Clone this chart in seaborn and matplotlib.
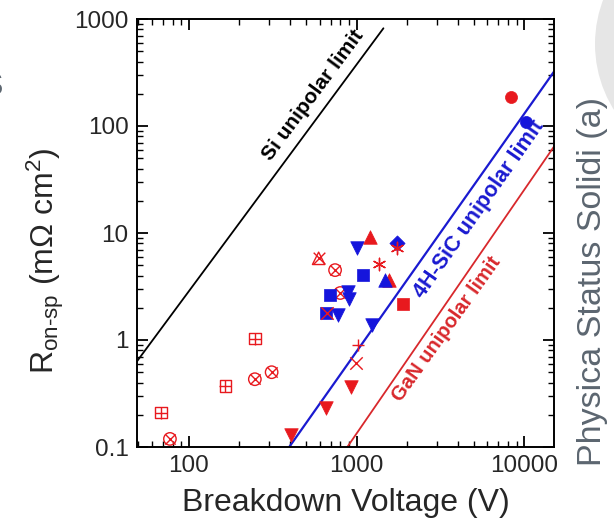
import matplotlib
matplotlib.use("Agg")
import matplotlib.pyplot as plt
import matplotlib.patches as mpatches
import matplotlib.transforms as mtransforms
from matplotlib.ticker import FixedLocator, LogLocator, NullFormatter
import seaborn as sns

# ---------------- data ----------------
# unipolar limit lines (end points)
si_x = [48.7, 1443]
si_y = [0.624, 819]
sic_x = [396, 14970]
sic_y = [0.1, 321]
gan_x = [879, 14970]
gan_y = [0.1, 64]

# GaN devices (red)
gan_sqplus_x = [68, 165, 247]
gan_sqplus_y = [0.21, 0.37, 1.03]
gan_circx_x = [77, 247, 311, 743, 798]
gan_circx_y = [0.119, 0.43, 0.50, 4.5, 2.75]
gan_trix_x = [593]
gan_trix_y = [5.8]
gan_cross_x = [995, 661]
gan_cross_y = [0.605, 1.77]
gan_plus_x = [1019]
gan_plus_y = [0.90]
gan_star_x = [1352, 1750]
gan_star_y = [5.1, 7.2]
gan_down_x = [405, 659, 929]
gan_down_y = [0.129, 0.230, 0.366]
gan_up_x = [1194, 1560]
gan_up_y = [9.1, 3.62]
gan_sq_x = [1888]
gan_sq_y = [2.16]
gan_circ_x = [8280]
gan_circ_y = [185]

# SiC devices (blue)
sic_sq_x = [690, 1089, 653]
sic_sq_y = [2.66, 4.04, 1.77]
sic_down_x = [1000, 770, 889, 895, 1226]
sic_down_y = [7.3, 1.71, 2.8, 2.4, 1.38]
sic_up_x = [1482]
sic_up_y = [3.67]
sic_dia_x = [1741]
sic_dia_y = [7.98]
sic_circ_x = [10280]
sic_circ_y = [110]

x_ticks = [100, 1000, 10000]
x_tick_labels = ["100", "1000", "10000"]
y_ticks = [0.1, 1, 10, 100, 1000]
y_tick_labels = ["0.1", "1", "10", "100", "1000"]

RED = "#e8191e"
BLUE = "#1515dc"
GREY = "#5c6670"

# ---------------- style ----------------
sns.set_style("ticks")
plt.rcParams["font.family"] = ["Liberation Sans", "DejaVu Sans"]
plt.rcParams["mathtext.fontset"] = "custom"
plt.rcParams["mathtext.rm"] = "Liberation Sans"
plt.rcParams["mathtext.it"] = "Liberation Sans:italic"
plt.rcParams["mathtext.bf"] = "Liberation Sans:bold"

fig = plt.figure(figsize=(6.14, 5.24), dpi=100)

# decorative grey disc at the top right
disc = mpatches.Circle((719, 524 - 44), 124, transform=mtransforms.IdentityTransform(),
                       facecolor="#e6e6e6", edgecolor="none", zorder=0)
fig.add_artist(disc)

ax = fig.add_axes([137 / 614, 1 - 447 / 524, (554 - 137) / 614, (447 - 19) / 524])
ax.set_xscale("log")
ax.set_yscale("log")

# lines
sns.lineplot(x=si_x, y=si_y, ax=ax, color="black", lw=1.3, sort=False, estimator=None)
sns.lineplot(x=sic_x, y=sic_y, ax=ax, color="#1a1ad0", lw=1.6, sort=False, estimator=None)
sns.lineplot(x=gan_x, y=gan_y, ax=ax, color="#d8282c", lw=1.3, sort=False, estimator=None)


def pts(x, y, marker, s, face, edge, lw=1.0, z=3):
    sns.scatterplot(x=x, y=y, ax=ax, marker=marker, s=s, color=edge,
                    facecolor=face, edgecolor=edge, linewidth=lw, zorder=z)


# red open symbols
pts(gan_sqplus_x, gan_sqplus_y, "s", 70, "none", RED, 1.0)
pts(gan_sqplus_x, gan_sqplus_y, "+", 70, RED, RED, 1.0)
pts(gan_circx_x, gan_circx_y, "o", 80, "none", RED, 1.0)
pts(gan_circx_x, gan_circx_y, "x", 55, RED, RED, 1.0)
pts(gan_trix_x, gan_trix_y, "^", 80, "none", RED, 1.0)
pts(gan_trix_x, gan_trix_y, "x", 70, RED, RED, 1.0)

# filled symbols
pts(gan_up_x[1:], gan_up_y[1:], "^", 95, RED, RED, 0.5)
pts(sic_sq_x, sic_sq_y, "s", 70, BLUE, BLUE, 0.5)
pts(sic_down_x, sic_down_y, "v", 95, BLUE, BLUE, 0.5)
pts(sic_up_x, sic_up_y, "^", 95, BLUE, BLUE, 0.5)
pts(sic_dia_x, sic_dia_y, "D", 60, BLUE, BLUE, 0.5)
pts(sic_circ_x, sic_circ_y, "o", 75, BLUE, BLUE, 0.5)
pts(gan_up_x[:1], gan_up_y[:1], "^", 95, RED, RED, 0.5)
pts(gan_down_x, gan_down_y, "v", 95, RED, RED, 0.5)
pts(gan_sq_x, gan_sq_y, "s", 70, RED, RED, 0.5)
pts(gan_circ_x, gan_circ_y, "o", 75, RED, RED, 0.5)

# red line-art symbols
pts(gan_cross_x, gan_cross_y, "x", 80, RED, RED, 1.0, 4)
pts(gan_plus_x, gan_plus_y, "+", 80, RED, RED, 1.0, 4)
pts(gan_star_x, gan_star_y, (6, 2, 0), 80, RED, RED, 1.0, 4)

# line labels
ax.text(546, 195, "Si unipolar limit", rotation=53.5, ha="center", va="center",
        rotation_mode="anchor", fontsize=15, fontweight="bold", color="black")
ax.text(5350, 16.7, "4H-SiC unipolar limit", rotation=55, ha="center", va="center",
        rotation_mode="anchor", fontsize=15.5, fontweight="bold", color="#1a1ad0")
ax.text(3444, 1.27, "GaN unipolar limit", rotation=54.5, ha="center", va="center",
        rotation_mode="anchor", fontsize=14.5, fontweight="bold", color="#d8282c")

# axes
ax.set_xlim(49, 15000)
ax.set_ylim(0.1, 1000)
ax.xaxis.set_major_locator(FixedLocator(x_ticks))
ax.set_xticklabels(x_tick_labels)
ax.yaxis.set_major_locator(FixedLocator(y_ticks))
ax.set_yticklabels(y_tick_labels)
ax.xaxis.set_minor_locator(LogLocator(base=10, subs=range(2, 10)))
ax.yaxis.set_minor_locator(LogLocator(base=10, subs=range(2, 10)))
ax.xaxis.set_minor_formatter(NullFormatter())
ax.yaxis.set_minor_formatter(NullFormatter())
ax.tick_params(which="both", direction="in", top=True, right=True, color="black")
ax.tick_params(which="major", length=8, width=1.3, labelsize=17.5, pad=6)
ax.tick_params(which="minor", length=4.5, width=1.0)
for sp in ax.spines.values():
    sp.set_linewidth(1.4)
    sp.set_color("black")

ax.set_xlabel("Breakdown Voltage (V)", fontsize=23, labelpad=8)
ax.set_ylabel(r"R$_{\mathregular{on‐sp}}$ (mΩ cm$^{\mathregular{2}}$)", fontsize=23, labelpad=6)
ax.yaxis.label.set_y(0.435)

# side caption
fig.text(593 / 614, 1 - 281 / 524, "Physica Status Solidi (a)", rotation=90,
         ha="center", va="center", fontsize=24.5, color=GREY)
fig.text(-7 / 614, 1 - 87 / 524, "S", ha="center", va="center", fontsize=22, color=GREY)

fig.savefig("out.png", dpi=100)
